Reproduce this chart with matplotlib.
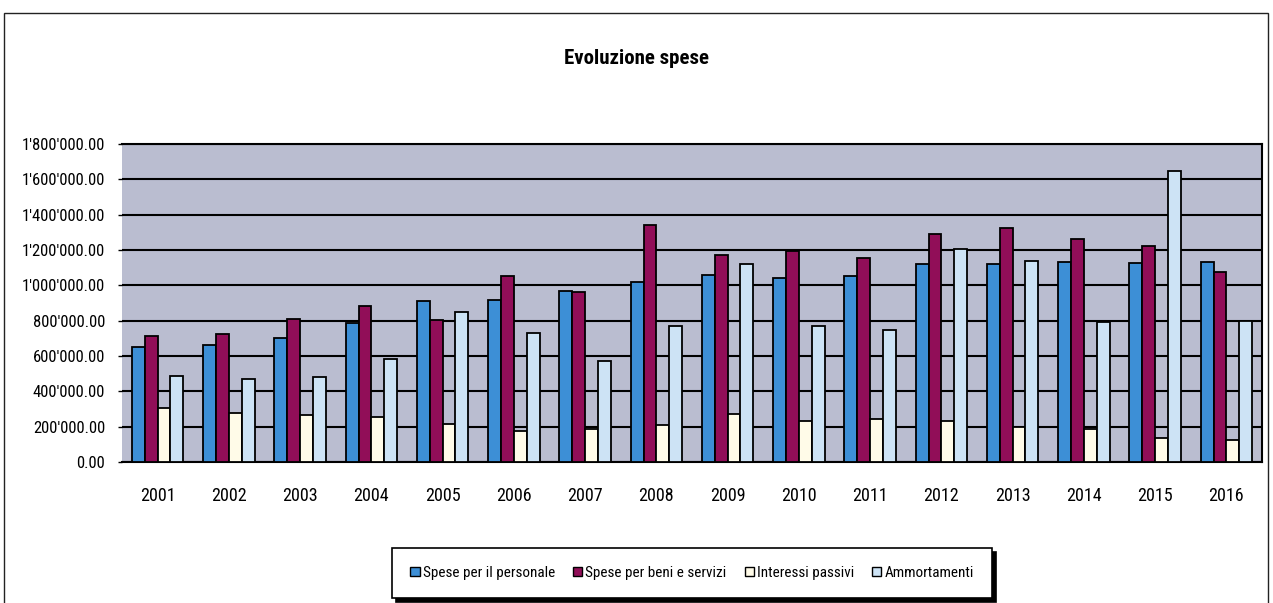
import matplotlib
matplotlib.use("Agg")
import matplotlib.pyplot as plt
from matplotlib import font_manager
from matplotlib.font_manager import FontProperties
from matplotlib.patches import Rectangle, Patch
import numpy as np

years = ["2001", "2002", "2003", "2004", "2005", "2006", "2007", "2008",
         "2009", "2010", "2011", "2012", "2013", "2014", "2015", "2016"]
personale = [650000, 663000, 701000, 786000, 913000, 919000, 968000, 1017000,
             1061000, 1042000, 1055000, 1120000, 1122000, 1130000, 1125000, 1130000]
beni_servizi = [712000, 725000, 809000, 883000, 803000, 1053000, 960000, 1343000,
                1174000, 1193000, 1155000, 1292000, 1322000, 1262000, 1225000, 1078000]
interessi = [303000, 275000, 267000, 252000, 216000, 174000, 184000, 212000,
             269000, 231000, 245000, 232000, 198000, 185000, 135000, 125000]
ammortamenti = [485000, 470000, 479000, 581000, 850000, 729000, 574000, 767000,
                1123000, 769000, 750000, 1205000, 1140000, 790000, 1650000, 800000]
series_names = ["Spese per il personale", "Spese per beni e servizi",
                "Interessi passivi", "Ammortamenti"]
series_colors = ["#3d8fd6", "#910e58", "#fffbe8", "#cde3f5"]
y_ticks = [0, 200000, 400000, 600000, 800000, 1000000, 1200000, 1400000,
           1600000, 1800000]
title = "Evoluzione spese"


def pick_font(weight_bold):
    prefs = ["Liberation Sans Narrow", "Roboto Condensed", "Open Sans Condensed",
             "Noto Sans", "Noto Sans Condensed", "DejaVu Sans", "DejaVu Sans Condensed",
             "Open Sans", "Roboto"]
    for pref in prefs:
        for f in font_manager.fontManager.ttflist:
            if f.name != pref or f.style != "normal":
                continue
            if str(f.stretch) not in ("condensed", "semi-condensed") and "Narrow" not in f.name \
                    and "Condensed" not in f.name:
                continue
            w = f.weight if isinstance(f.weight, int) else (700 if "bold" in str(f.weight) else 400)
            if (w >= 600) == weight_bold:
                return f.fname
    return None


reg_file = pick_font(False)
bold_file = pick_font(True)
narrow = reg_file is not None
fp_reg = FontProperties(fname=reg_file) if reg_file else FontProperties(family="Liberation Sans")
fp_bold = FontProperties(fname=bold_file) if bold_file else \
    FontProperties(family="Liberation Sans", weight="bold")

W, H = 1273, 603
fig = plt.figure(figsize=(W / 100, H / 100), dpi=100)
fig.patch.set_facecolor("white")

# outer chart frame
fig.add_artist(Rectangle((4 / W, -0.05), (1268 - 4) / W, 1.05 - 13 / H,
                         transform=fig.transFigure, fill=False,
                         edgecolor="#222222", linewidth=1.0))

left, right, top, bottom = 122, 1262, 144, 462
ax = fig.add_axes([left / W, 1 - bottom / H, (right - left) / W, (bottom - top) / H])
ax.set_facecolor("#babdd0")

x = np.arange(len(years))
bw = 0.18
all_series = [personale, beni_servizi, interessi, ammortamenti]
for i, (vals, col) in enumerate(zip(all_series, series_colors)):
    ax.bar(x + (i - 1.5) * bw, vals, width=bw, color=col, edgecolor="black",
           linewidth=1.3, zorder=3)

ax.set_ylim(0, 1800000)
ax.set_xlim(-0.5, len(years) - 0.5)
ylabels = ["{:,.2f}".format(v).replace(",", "'") for v in y_ticks]
ax.set_yticks(y_ticks, labels=ylabels, fontproperties=fp_reg,
              fontsize=12 if narrow else 10.5)
ax.set_xticks(x, labels=years, fontproperties=fp_reg,
              fontsize=13 if narrow else 11)
ax.grid(axis="y", color="black", linewidth=1.5, zorder=1)
ax.set_axisbelow(True)
ax.tick_params(axis="y", length=3, width=1, pad=9)
ax.tick_params(axis="x", length=0, pad=18)
ax.spines["left"].set_visible(False)
for s in ["right", "bottom", "top"]:
    ax.spines[s].set_linewidth(1.5)

fig.text(636 / W, 1 - 58 / H, title, ha="center", va="center",
         fontproperties=fp_bold, fontsize=15 if narrow else 12.5)

leg_fp = fp_reg.copy()
leg_fp.set_size(10.9 if narrow else 9.3)
handles = [Patch(facecolor=c, edgecolor="black", linewidth=1) for c in series_colors]
leg = fig.legend(handles, series_names, loc="center", ncol=4,
                 bbox_to_anchor=(692 / W, 1 - 573 / H), prop=leg_fp,
                 handlelength=0.6, handleheight=0.6, handletextpad=0.2,
                 columnspacing=1.2, borderpad=1.2, fancybox=False,
                 frameon=True, shadow={"color": "black", "alpha": 1, "ox": 3, "oy": -3})
leg.get_frame().set_edgecolor("black")
leg.get_frame().set_linewidth(1.2)

fig.savefig("out.png", dpi=100)
